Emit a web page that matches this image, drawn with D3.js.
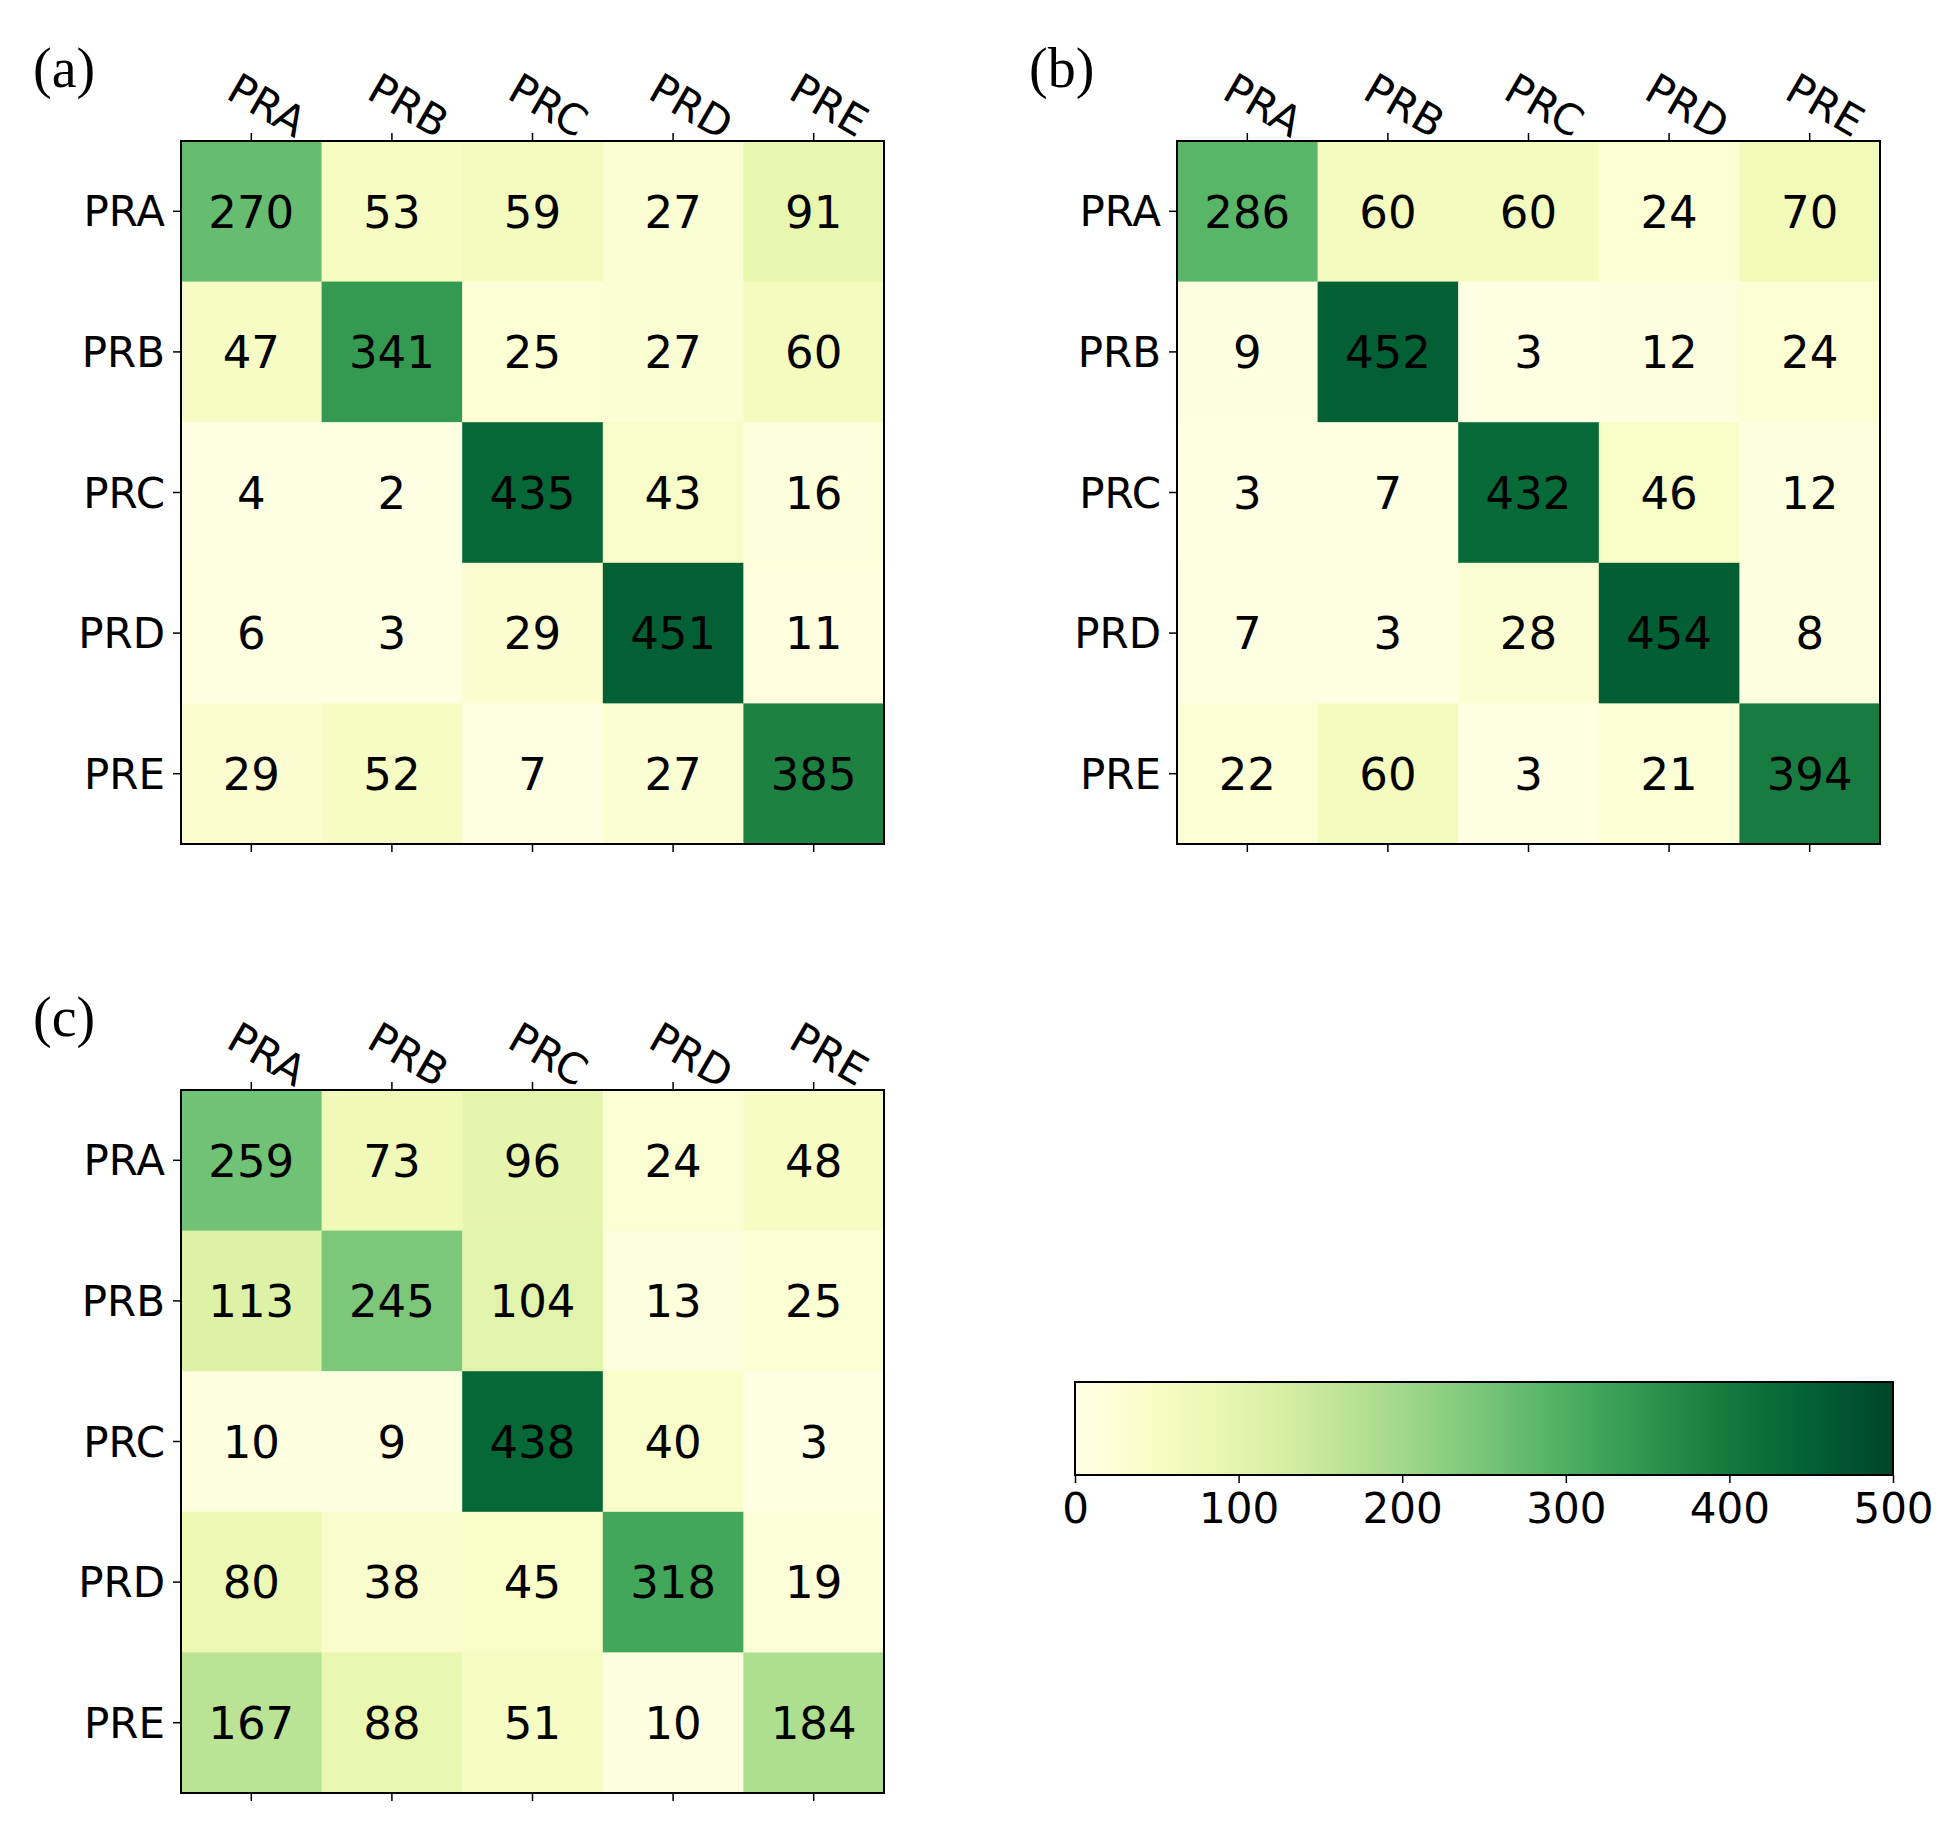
<!DOCTYPE html>
<html><head><meta charset="utf-8">
<script src="https://cdn.jsdelivr.net/npm/d3@7"></script>
<style>body{margin:0;background:#fff}</style>
</head><body>
<script>
// data
const classes = ["PRA", "PRB", "PRC", "PRD", "PRE"]
const matrixA = [[270,53,59,27,91],[47,341,25,27,60],[4,2,435,43,16],[6,3,29,451,11],[29,52,7,27,385]]
const matrixB = [[286,60,60,24,70],[9,452,3,12,24],[3,7,432,46,12],[7,3,28,454,8],[22,60,3,21,394]]
const matrixC = [[259,73,96,24,48],[113,245,104,13,25],[10,9,438,40,3],[80,38,45,318,19],[167,88,51,10,184]]
const colorTicks = [0, 100, 200, 300, 400, 500]

const W = 1947, H = 1842
const svg = d3.select("body").append("svg").attr("width", W).attr("height", H)
const color = d3.scaleSequential(d3.interpolateYlGn).domain([0, 500])
const font = "DejaVu Sans"

function drawPanel(label, matrix, x0, y0) {
    const size = 703
    const g = svg.append("g").attr("transform", `translate(${x0},${y0})`)
    const x = d3.scaleBand().domain(classes).range([0, size])
    const y = d3.scaleBand().domain(classes).range([0, size])
    const cells = matrix.flatMap((row, i) => row.map((v, j) => ({r: classes[i], c: classes[j], v})))

    g.selectAll("rect.cell").data(cells).join("rect")
     .attr("x", d => x(d.c)).attr("y", d => y(d.r))
     .attr("width", x.bandwidth() + 0.5).attr("height", y.bandwidth() + 0.5)
     .attr("fill", d => color(d.v))
    g.selectAll("text.val").data(cells).join("text")
     .attr("x", d => x(d.c) + x.bandwidth() / 2).attr("y", d => y(d.r) + y.bandwidth() / 2)
     .attr("text-anchor", "middle").attr("dy", "0.36em")
     .style("font-family", font).style("font-size", "45px").text(d => d.v)
    g.append("rect").attr("width", size).attr("height", size)
     .attr("fill", "none").attr("stroke", "#000").attr("stroke-width", 2)

    // ticks
    const tick = 8
    classes.forEach(c => {
        const cx = x(c) + x.bandwidth() / 2, cy = y(c) + y.bandwidth() / 2
        g.append("line").attr("x1", cx).attr("x2", cx).attr("y1", 0).attr("y2", -tick).attr("stroke", "#000").attr("stroke-width", 1.5)
        g.append("line").attr("x1", cx).attr("x2", cx).attr("y1", size).attr("y2", size + tick).attr("stroke", "#000").attr("stroke-width", 1.5)
        g.append("line").attr("x1", 0).attr("x2", -tick).attr("y1", cy).attr("y2", cy).attr("stroke", "#000").attr("stroke-width", 1.5)
        g.append("text").attr("transform", `translate(${cx},${-14}) rotate(30)`)
         .attr("text-anchor", "start").attr("x", -38).attr("y", -12)
         .style("font-family", font).style("font-size", "42px").text(c)
        g.append("text").attr("x", -16).attr("y", cy).attr("dy", "0.36em")
         .attr("text-anchor", "end")
         .style("font-family", font).style("font-size", "42px").text(c)
    })
    svg.append("text").attr("x", x0 - 148).attr("y", y0 - 54)
     .style("font-family", "Liberation Serif").style("font-size", "56px").text(label)
}

drawPanel("(a)", matrixA, 181, 141)
drawPanel("(b)", matrixB, 1177, 141)
drawPanel("(c)", matrixC, 181, 1090)

// colorbar
const cb = {x: 1075, y: 1382, w: 818, h: 93}
const defs = svg.append("defs")
const grad = defs.append("linearGradient").attr("id", "cbg")
d3.range(0, 1.001, 0.05).forEach(t => grad.append("stop").attr("offset", t).attr("stop-color", color(t * 500)))
svg.append("rect").attr("x", cb.x).attr("y", cb.y).attr("width", cb.w).attr("height", cb.h)
   .attr("fill", "url(#cbg)").attr("stroke", "#000").attr("stroke-width", 2)
const cx = d3.scaleLinear().domain([0, 500]).range([cb.x, cb.x + cb.w])
const axis = svg.append("g").attr("transform", `translate(0,${cb.y + cb.h})`)
   .call(d3.axisBottom(cx).tickValues(colorTicks).tickSize(8).tickPadding(10))
axis.select(".domain").remove()
axis.selectAll("line").attr("stroke-width", 1.5)
axis.selectAll("text").style("font-family", font).style("font-size", "42px").attr("fill", "#000")
</script>
</body></html>
